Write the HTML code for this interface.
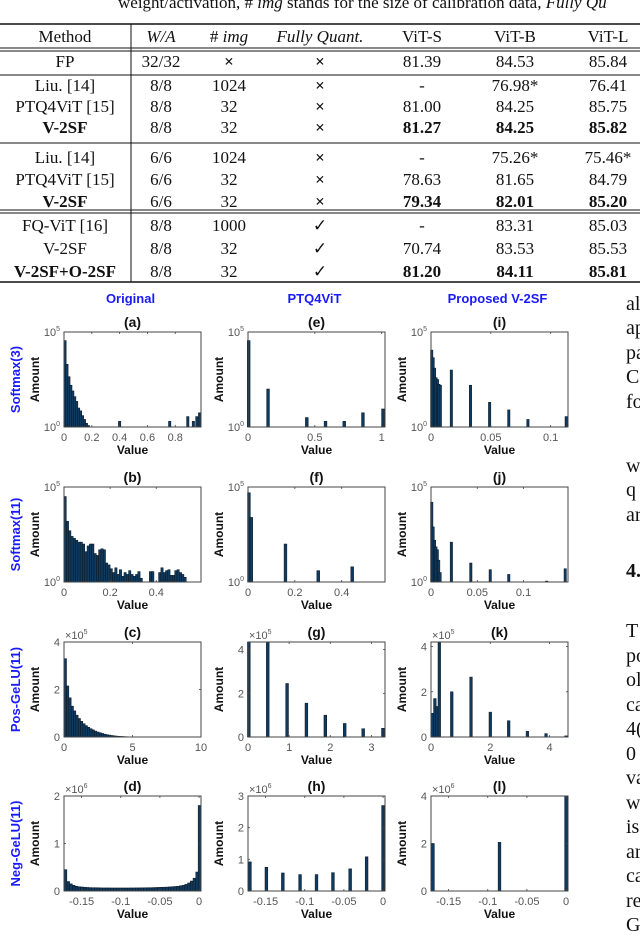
<!DOCTYPE html>
<html><head><meta charset="utf-8"><style>
html,body{margin:0;padding:0;background:#fff;}
svg{display:block;}
.tb{font-family:"Liberation Serif",serif;font-size:17px;fill:#111;}
.bd{font-weight:bold;}
.tk{font-family:"Liberation Sans",sans-serif;font-size:11px;fill:#555;}
.lb{font-family:"Liberation Sans",sans-serif;font-size:12px;font-weight:bold;fill:#111;}
.pt{font-family:"Liberation Sans",sans-serif;font-size:14px;font-weight:bold;fill:#111;}
.bl{font-family:"Liberation Sans",sans-serif;font-size:13px;font-weight:bold;fill:#1a1aff;}
.rt{font-family:"Liberation Serif",serif;font-size:20px;fill:#111;}
</style></head><body>
<svg id="pg" width="640" height="948" viewBox="0 0 640 948" xmlns="http://www.w3.org/2000/svg">
<g>
<text class="tb" x="118" y="8">weight/activation, # <tspan font-style="italic">img</tspan> stands for the size of calibration data, <tspan font-style="italic">Fully Qu</tspan></text>
<line x1="0" y1="24" x2="640" y2="24" stroke="#111" stroke-width="1.5"/>
<line x1="0" y1="48" x2="640" y2="48" stroke="#111" stroke-width="1"/>
<line x1="0" y1="51" x2="640" y2="51" stroke="#111" stroke-width="1"/>
<line x1="0" y1="75" x2="640" y2="75" stroke="#111" stroke-width="1"/>
<line x1="0" y1="143" x2="640" y2="143" stroke="#111" stroke-width="1"/>
<line x1="0" y1="210" x2="640" y2="210" stroke="#111" stroke-width="1"/>
<line x1="0" y1="213" x2="640" y2="213" stroke="#111" stroke-width="1"/>
<line x1="0" y1="282" x2="640" y2="282" stroke="#111" stroke-width="1.5"/>
<line x1="131" y1="24" x2="131" y2="282" stroke="#111" stroke-width="1"/>
<g id="tbody" text-anchor="middle"></g>
</g>
<g id="charts"></g>
<g id="rtext"></g>
</svg>
<script>
// ---------- chart data ----------
const aBins=[0.007,0.021,0.035,0.049,0.063,0.077,0.091,0.105,0.119,0.133,0.147,0.161,0.175,0.40,0.76,0.89,0.93,0.955,0.975];
const aVals=[4.55,3.3,2.65,2.2,1.9,1.6,1.35,1.0,0.85,0.6,0.4,0.2,0.08,0.3,0.3,0.55,0.3,0.55,0.75];
const bBins=[0.005,0.015,0.025,0.035,0.045,0.055,0.065,0.075,0.085,0.095,0.105,0.115,0.125,0.135,0.145,0.155,0.165,0.175,0.185,0.195,0.205,0.215,0.225,0.235,0.245,0.255,0.265,0.275,0.285,0.295,0.305,0.315,0.325,0.335,0.375,0.385,0.415,0.425,0.435,0.445,0.455,0.465,0.475,0.485,0.495,0.505,0.515,0.525];
const bVals=[4.5,3.2,2.7,2.4,2.3,2.2,2.1,2.1,2.0,1.6,1.9,2.0,2.0,1.5,1.4,1.7,1.75,1.7,1.0,0.9,0.7,0.5,0.75,0.4,0.65,0.3,0.5,0.4,0.6,0.4,0.3,0.4,0.55,0.2,0.55,0.55,0.5,0.75,0.5,0.6,0.65,0.35,0.35,0.6,0.65,0.5,0.4,0.25];
const cBins=[0.1,0.27,0.44,0.61,0.78,0.95,1.12,1.29,1.46,1.63,1.8,1.97,2.14,2.31,2.48,2.65,2.82,2.99,3.16,3.33,3.5,3.67,3.84,4.01,4.18,4.35,4.52,4.69];
const cVals=[3.3,2.15,1.65,1.3,1.1,0.92,0.78,0.66,0.56,0.48,0.41,0.35,0.3,0.25,0.21,0.18,0.15,0.12,0.1,0.08,0.065,0.05,0.04,0.03,0.025,0.02,0.015,0.01];
const dBins=[-0.1705,-0.167,-0.1635,-0.16,-0.1565,-0.153,-0.1495,-0.146,-0.1425,-0.139,-0.1355,-0.132,-0.1285,-0.125,-0.1215,-0.118,-0.1145,-0.111,-0.1075,-0.104,-0.1005,-0.097,-0.0935,-0.09,-0.0865,-0.083,-0.0795,-0.076,-0.0725,-0.069,-0.0655,-0.062,-0.0585,-0.055,-0.0515,-0.048,-0.0445,-0.041,-0.0375,-0.034,-0.0305,-0.027,-0.0235,-0.02,-0.0165,-0.013,-0.0095,-0.006,-0.0025,0.0005];
const dVals=[0.45,0.2,0.15,0.12,0.1,0.09,0.085,0.08,0.075,0.072,0.07,0.07,0.068,0.066,0.065,0.065,0.065,0.064,0.064,0.064,0.064,0.064,0.064,0.064,0.065,0.065,0.066,0.066,0.067,0.068,0.07,0.07,0.072,0.074,0.076,0.078,0.08,0.083,0.086,0.09,0.095,0.1,0.11,0.12,0.14,0.17,0.21,0.27,0.4,1.8];
const eBins=[0.005,0.15,0.44,0.58,0.72,0.86,1.01];
const eVals=[4.55,2.0,0.5,0.3,0.3,0.75,0.95];
const fBins=[0.004,0.014,0.16,0.30,0.445];
const fVals=[4.7,3.4,2.0,0.6,0.8];
const gBins=[0.02,0.48,0.95,1.42,1.88,2.35,2.8,3.28];
const gVals=[4.4,4.4,2.45,1.55,1.0,0.62,0.38,0.4];
const hBins=[-0.17,-0.149,-0.128,-0.106,-0.085,-0.064,-0.042,-0.021,0];
const hVals=[0.92,0.75,0.57,0.52,0.52,0.58,0.7,1.08,2.7];
const iBins=[0.0006,0.0018,0.003,0.0042,0.0054,0.0066,0.0078,0.017,0.033,0.049,0.065,0.081,0.113];
const iVals=[4.05,3.65,3.1,2.6,2.5,2.25,2.2,3.0,2.2,1.3,0.9,0.4,0.55];
const jBins=[0.0008,0.0023,0.0038,0.0053,0.0068,0.0083,0.0098,0.022,0.043,0.064,0.084,0.125,0.145];
const jVals=[4.2,2.9,2.2,1.85,1.7,1.15,0.5,2.1,1.0,0.65,0.4,0.05,0.7];
const kBins=[0.05,0.13,0.2,0.28,0.7,1.35,2.0,2.62,3.25,3.88,4.55];
const kVals=[1.05,1.7,1.35,4.2,2.0,2.65,1.1,0.72,0.25,0.15,0.05];
const lBins=[-0.17,-0.085,0];
const lVals=[2.0,2.05,4.0];
const aTicks=[0,0.2,0.4,0.6,0.8], bTicks=[0,0.2,0.4], cTicks=[0,5,10], dTicks=[-0.15,-0.1,-0.05,0];
const eTicks=[0,0.5,1], fTicks=[0,0.2,0.4], gTicks=[0,1,2,3], hTicks=[-0.15,-0.1,-0.05,0];
const iTicks=[0,0.05,0.1], jTicks=[0,0.05,0.1], kTicks=[0,2,4], lTicks=[-0.15,-0.1,-0.05,0];
const yTicksC=[0,2,4], yTicksD=[0,1,2], yTicksG=[0,2,4], yTicksH=[0,1,2,3], yTicksK=[0,2,4], yTicksL=[0,2,4];
const colHeads=["Original","PTQ4ViT","Proposed V-2SF"];
const rowHeads=["Softmax(3)","Softmax(11)","Pos-GeLU(11)","Neg-GeLU(11)"];

const NS="http://www.w3.org/2000/svg";
function mk(tag,attrs,parent){const e=document.createElementNS(NS,tag);for(const k in attrs)e.setAttribute(k,attrs[k]);parent.appendChild(e);return e;}

// ---------- table ----------
const tb=document.getElementById('tbody');
const colX=[65,161,229,320,422,515,608];
const rows=[
 [37,["Method","W/A","# img","Fully Quant.","ViT-S","ViT-B","ViT-L"],[0,0,0,0,0,0,0],"h"],
 [62,["FP","32/32","×","×","81.39","84.53","85.84"],[0,0,0,0,0,0,0]],
 [86,["Liu. [14]","8/8","1024","×","-","76.98*","76.41"],[0,0,0,0,0,0,0]],
 [107,["PTQ4ViT [15]","8/8","32","×","81.00","84.25","85.75"],[0,0,0,0,0,0,0]],
 [128,["V-2SF","8/8","32","×","81.27","84.25","85.82"],[1,0,0,0,1,1,1]],
 [158,["Liu. [14]","6/6","1024","×","-","75.26*","75.46*"],[0,0,0,0,0,0,0]],
 [180,["PTQ4ViT [15]","6/6","32","×","78.63","81.65","84.79"],[0,0,0,0,0,0,0]],
 [202,["V-2SF","6/6","32","×","79.34","82.01","85.20"],[1,0,0,0,1,1,1]],
 [226,["FQ-ViT [16]","8/8","1000","✓","-","83.31","85.03"],[0,0,0,0,0,0,0]],
 [249,["V-2SF","8/8","32","✓","70.74","83.53","85.53"],[0,0,0,0,0,0,0]],
 [272,["V-2SF+O-2SF","8/8","32","✓","81.20","84.11","85.81"],[1,0,0,0,1,1,1]]
];
rows.forEach((r,ri)=>{
 r[1].forEach((t,ci)=>{
  const e=mk('text',{x:colX[ci],y:r[0]+5,class:'tb'+(r[2][ci]?' bd':'')},tb);
  
  
  if(ri===0&&(ci===1||ci===3))e.setAttribute('font-style','italic');
  if(ri===0&&ci===2){e.textContent="# ";const s=mk('tspan',{'font-style':'italic'},e);s.textContent="img";return;}
  if(t==="×"){e.setAttribute('font-family','Liberation Sans, sans-serif');e.setAttribute('font-weight','bold');e.setAttribute('font-size','14');}
  e.textContent=t;
 });
});

// ---------- charts ----------
const ch=document.getElementById('charts');
const colL=[64,248,431], BW=137;
const rowT=[332,487,642,796], BH=95;
const panels=[
 {id:'a',c:0,r:0,log:true,x0:0,x1:0.985,bins:aBins,vals:aVals,xt:aTicks,w:2.4},
 {id:'b',c:0,r:1,log:true,x0:0,x1:0.594,bins:bBins,vals:bVals,xt:bTicks,w:2.3},
 {id:'c',c:0,r:2,log:false,ymax:4,exp:'5',yt:yTicksC,x0:0,x1:10,bins:cBins,vals:cVals,xt:cTicks,w:2.3},
 {id:'d',c:0,r:3,log:false,ymax:2,exp:'6',yt:yTicksD,x0:-0.1725,x1:0.0025,bins:dBins,vals:dVals,xt:dTicks,w:2.6},
 {id:'e',c:1,r:0,log:true,x0:0,x1:1.025,bins:eBins,vals:eVals,xt:eTicks,w:2.8},
 {id:'f',c:1,r:1,log:true,x0:0,x1:0.585,bins:fBins,vals:fVals,xt:fTicks,w:2.8},
 {id:'g',c:1,r:2,log:false,ymax:4.35,exp:'5',yt:yTicksG,x0:0,x1:3.33,bins:gBins,vals:gVals,xt:gTicks,w:2.8},
 {id:'h',c:1,r:3,log:false,ymax:3,exp:'6',yt:yTicksH,x0:-0.1725,x1:0.0025,bins:hBins,vals:hVals,xt:hTicks,w:2.8},
 {id:'i',c:2,r:0,log:true,x0:0,x1:0.1145,bins:iBins,vals:iVals,xt:iTicks,w:2.4},
 {id:'j',c:2,r:1,log:true,x0:0,x1:0.148,bins:jBins,vals:jVals,xt:jTicks,w:2.4},
 {id:'k',c:2,r:2,log:false,ymax:4.2,exp:'5',yt:yTicksK,x0:0,x1:4.62,bins:kBins,vals:kVals,xt:kTicks,w:2.6},
 {id:'l',c:2,r:3,log:false,ymax:4,exp:'6',yt:yTicksL,x0:-0.1725,x1:0.0025,bins:lBins,vals:lVals,xt:lTicks,w:2.8}
];
colHeads.forEach((t,i)=>{
 const e=mk('text',{x:colL[i]+BW/2-2,y:303,class:'bl','text-anchor':'middle'},ch);
 
 
 e.textContent=t;
});
rowHeads.forEach((t,i)=>{
 const cy=rowT[i]+BH/2;
 const e=mk('text',{x:0,y:0,class:'bl','text-anchor':'middle',transform:`translate(20,${cy}) rotate(-90)`},ch);
 
 
 e.setAttribute('font-size','15');
 e.textContent=t;
});
function fmt(v){return (Math.round(v*1000)/1000).toString();}
panels.forEach(p=>{
 const L=colL[p.c],T=rowT[p.r],R=L+BW,B=T+BH;
 const g=mk('g',{},ch);
 
 
 const xs=v=>L+(v-p.x0)/(p.x1-p.x0)*BW;
 const ys=v=>p.log? B-v/5*BH : B-v/p.ymax*BH;
 const vmax=p.log?5:p.ymax;
 p.bins.forEach((b,i)=>{
  const v=Math.min(p.vals[i],vmax);
  const h=B-ys(v);
  const r=mk('rect',{x:xs(b)-p.w/2,y:ys(v),width:p.w,height:Math.max(h,0),fill:'#0f3a5f',stroke:'#0a1622','stroke-width':0.5},g);
  
  
 });
 const bx=mk('rect',{x:L,y:T,width:BW,height:BH,fill:'none',stroke:'#444','stroke-width':1},g);
 
 
 p.xt.forEach(t=>{
  const x=xs(t);
  mk('line',{x1:x,y1:B,x2:x,y2:B-2,stroke:'#444','stroke-width':0.8},g);
  mk('line',{x1:x,y1:T,x2:x,y2:T+2,stroke:'#444','stroke-width':0.8},g);
  const e=mk('text',{x:x,y:B+14,class:'tk','text-anchor':'middle'},g);
  
  
  e.textContent=fmt(t);
 });
 if(p.log){
  [[0,'0'],[5,'5']].forEach(([v,s])=>{
   const y=ys(v);
   const e=mk('text',{x:L-4,y:y+4,class:'tk','text-anchor':'end'},g);
   
   
   e.textContent='10';
   const sp=mk('tspan',{'font-size':'7',dy:'-5'},e);sp.textContent=s;
  });
 } else {
  p.yt.forEach(v=>{
   const y=ys(v);
   mk('line',{x1:L,y1:y,x2:L+2,y2:y,stroke:'#444','stroke-width':0.8},g);
   mk('line',{x1:R,y1:y,x2:R-2,y2:y,stroke:'#444','stroke-width':0.8},g);
   const e=mk('text',{x:L-4,y:y+4,class:'tk','text-anchor':'end'},g);
   
   
   e.textContent=fmt(v);
  });
  const ex=mk('text',{x:L+1,y:T-3,class:'tk'},g);
  
  
  ex.textContent='×10';
  const sp=mk('tspan',{'font-size':'7',dy:'-5'},ex);sp.textContent=p.exp;
 }
 const tt=mk('text',{x:L+BW/2,y:T-5,class:'pt','text-anchor':'middle'},g);
 
 
 tt.textContent='('+p.id+')';
 const xl=mk('text',{x:L+BW/2,y:B+27,class:'lb','text-anchor':'middle'},g);
 
 
 xl.textContent='Value';
 const yl=mk('text',{x:0,y:0,class:'lb','text-anchor':'middle',transform:`translate(${L-25},${T+BH/2}) rotate(-90)`},g);
 
 
 yl.textContent='Amount';
});

// ---------- right text column ----------
const rt=document.getElementById('rtext');
const lines=[["al",303],["ap",327],["pa",352],["C",376],["fo",401],["w",465],["q",489],["ar",514],["4.",570],["T",630],["po",655],["ol",679],["ca",704],["4(",728],["0",753],["va",777],["w",802],["is",826],["ar",851],["ca",875],["re",900],["G",924]];
lines.forEach(([t,y])=>{
 const e=mk('text',{x:626,y:y+7,class:'rt'},rt);
 
 
 if(t==="4.")e.setAttribute('font-weight','bold');
 e.textContent=t;
});
</script>
</body></html>
